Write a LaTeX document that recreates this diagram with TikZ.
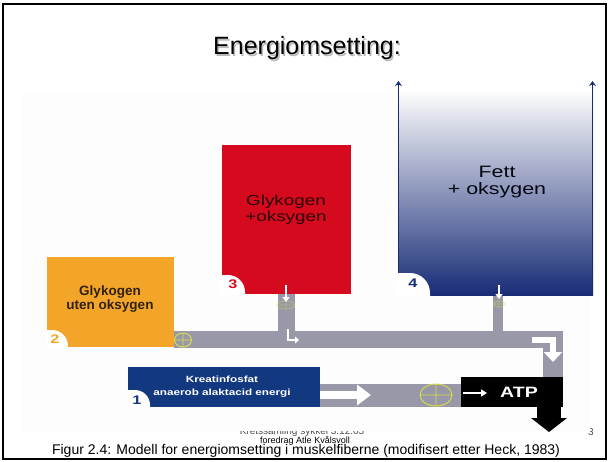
\documentclass[tikz,border=0pt]{standalone}
\usepackage{fontspec}
\setmainfont{Liberation Sans}
\newfontfamily\widesans[FakeStretch=1.3]{Liberation Sans}
\usetikzlibrary{arrows.meta}

\definecolor{orangebox}{RGB}{243,165,42}
\definecolor{redbox}{RGB}{214,10,30}
\definecolor{navybox}{RGB}{18,56,128}
\definecolor{fatblue}{RGB}{24,44,118}
\definecolor{pipegray}{RGB}{152,152,168}
\definecolor{pluscol}{RGB}{222,222,70}
\definecolor{imgbg}{RGB}{253,253,253}

% white rounded cut in the lower left corner of a box: x, y bottom, width, height, radius
\newcommand{\cutcorner}[5]{%
  \fill[white] (#1-1,#2-1) -- (#1-1,#2+#4) -- ({#1+#3-#5},#2+#4)
    arc[start angle=90,end angle=0,radius=#5pt] -- (#1+#3,#2-1) -- cycle;}
% yellow circle with a cross: x, y, x radius, y radius
\newcommand{\addsign}[4]{%
  \draw[pluscol,line width=0.9pt] (#1,#2) ellipse[x radius=#3pt,y radius=#4pt]
    ({#1-#3},#2) -- ({#1+#3},#2) (#1,{#2-#4}) -- (#1,{#2+#4});}

\begin{document}
\begin{tikzpicture}[x=1pt,y=1pt,
  pipe/.style={fill=pipegray},
  whitearrow/.style={draw=white,line width=2.5pt,-{Triangle[width=7pt,length=5pt]}},
  numlabel/.style={font=\widesans\bfseries\fontsize{12.5}{12.5}\selectfont},
  boxtext/.style={align=center,font=\widesans\fontsize{14.5}{16}\selectfont}]
\useasboundingbox (0,0) rectangle (609,461);

% footer of the slide, partly hidden by the picture
\node[gray!60!black,font=\fontsize{10}{10}\selectfont] (meeting) at (302,29) {Kretssamling sykkel 3.12.05};
\node[gray!60!black,font=\fontsize{10}{10}\selectfont] (page) at (591,29) {3};
\fill[imgbg] (22,368) rectangle (590,30);
\node[font=\fontsize{9}{9}\selectfont] (talk) at (305,20) {foredrag Atle Kvålsvoll};
\node[anchor=base,font=\fontsize{14}{14}\selectfont] (caption) at (306,7)
  {Figur 2.4: Modell for energiomsetting i muskelfiberne (modifisert etter Heck, 1983)};

\draw[line width=2pt] (3,2) rectangle (606,457);
\node[anchor=base,gray!55,font=\fontsize{25}{30}\selectfont] at (308.5,404.5) {Energiomsetting:};
\node[anchor=base,font=\fontsize{25}{30}\selectfont] (title) at (307,406) {Energiomsetting:};

% pipes
\fill[pipe] (174,130) rectangle (563,113);
\fill[pipe] (543,130) rectangle (563,84);
\fill[pipe] (278,167) rectangle (295,130);
\fill[pipe] (493,166) rectangle (503,130);
\fill[pipe] (320,77) rectangle (461,54);

% 2: glycogen without oxygen
\fill[orangebox] (47,204) rectangle (174,114);
\cutcorner{47}{114}{21}{17}{16}
\node[numlabel,orangebox] (n2) at (55,122) {2};
\node[align=center,text=black!80!orangebox,font=\bfseries\fontsize{13.5}{14}\selectfont] (glyko) at (110,162) {Glykogen\\uten oksygen};

% 3: glycogen with oxygen
\fill[redbox] (222,316) rectangle (351,167);
\cutcorner{222}{167}{23}{19}{17}
\node[numlabel,redbox] (n3) at (233,177) {3};
\node[boxtext,text=black!80!redbox] (glykox) at (286,251) {Glykogen\\+oksygen};

% 4: fat with oxygen
\shade[top color=white,bottom color=fatblue] (398,372) rectangle (593,166);
\draw[fatblue,line width=1.3pt,-{Stealth[width=7pt,length=5pt]}] (398.5,166) -- (398.5,380);
\draw[fatblue,line width=1.3pt,-{Stealth[width=7pt,length=5pt]}] (592.5,166) -- (592.5,380);
\cutcorner{398}{166}{32}{22}{20}
\node[numlabel,fatblue] (n4) at (413,178) {4};
\node[align=center,text=black!85!fatblue,font=\widesans\fontsize{16.5}{17.5}\selectfont] (fett) at (497,279) {Fett\\+ oksygen};

% 1: creatine phosphate
\fill[navybox] (128,94) rectangle (320,54);
\cutcorner{128}{54}{22}{17}{15}
\node[numlabel,navybox] (n1) at (137,61) {1};
\node[align=center,white,font=\widesans\bfseries\fontsize{9}{13}\selectfont] (kreatin) at (222,74) {Kreatinfosfat\\anaerob alaktacid energi};

% ATP
\fill (461,84) rectangle (563,54);
\fill (537,55) rectangle (561,43);
\fill (531,43) -- (567,43) -- (549,29) -- cycle;
\node[white,font=\widesans\bfseries\fontsize{15}{15}\selectfont] (atp) at (519,69) {ATP};

% flow arrows
\draw[whitearrow] (286,176) -- (286,159);
\draw[whitearrow] (499,176) -- (499,162);
\draw[white,line width=2.5pt,-{Triangle[width=7pt,length=4pt]}] (288,132) -- (288,121) -- (299,121);
\draw[white,line width=6pt,-{Triangle[width=18pt,length=10pt]}] (532,121) -- (553,121) -- (553,99);
\draw[white,line width=8pt,-{Triangle[width=20pt,length=14pt]}] (320,66) -- (371,66);
\draw[white,line width=2pt,-{Triangle[width=7pt,length=6pt]}] (463,68) -- (487,68);

% junctions
\addsign{183}{121}{8.5}{7}
\addsign{436}{66}{16}{11}
\begin{scope}[opacity=0.4]
\addsign{286}{156}{9}{4}
\addsign{499}{157}{6}{3}
\end{scope}

\end{tikzpicture}
\end{document}
